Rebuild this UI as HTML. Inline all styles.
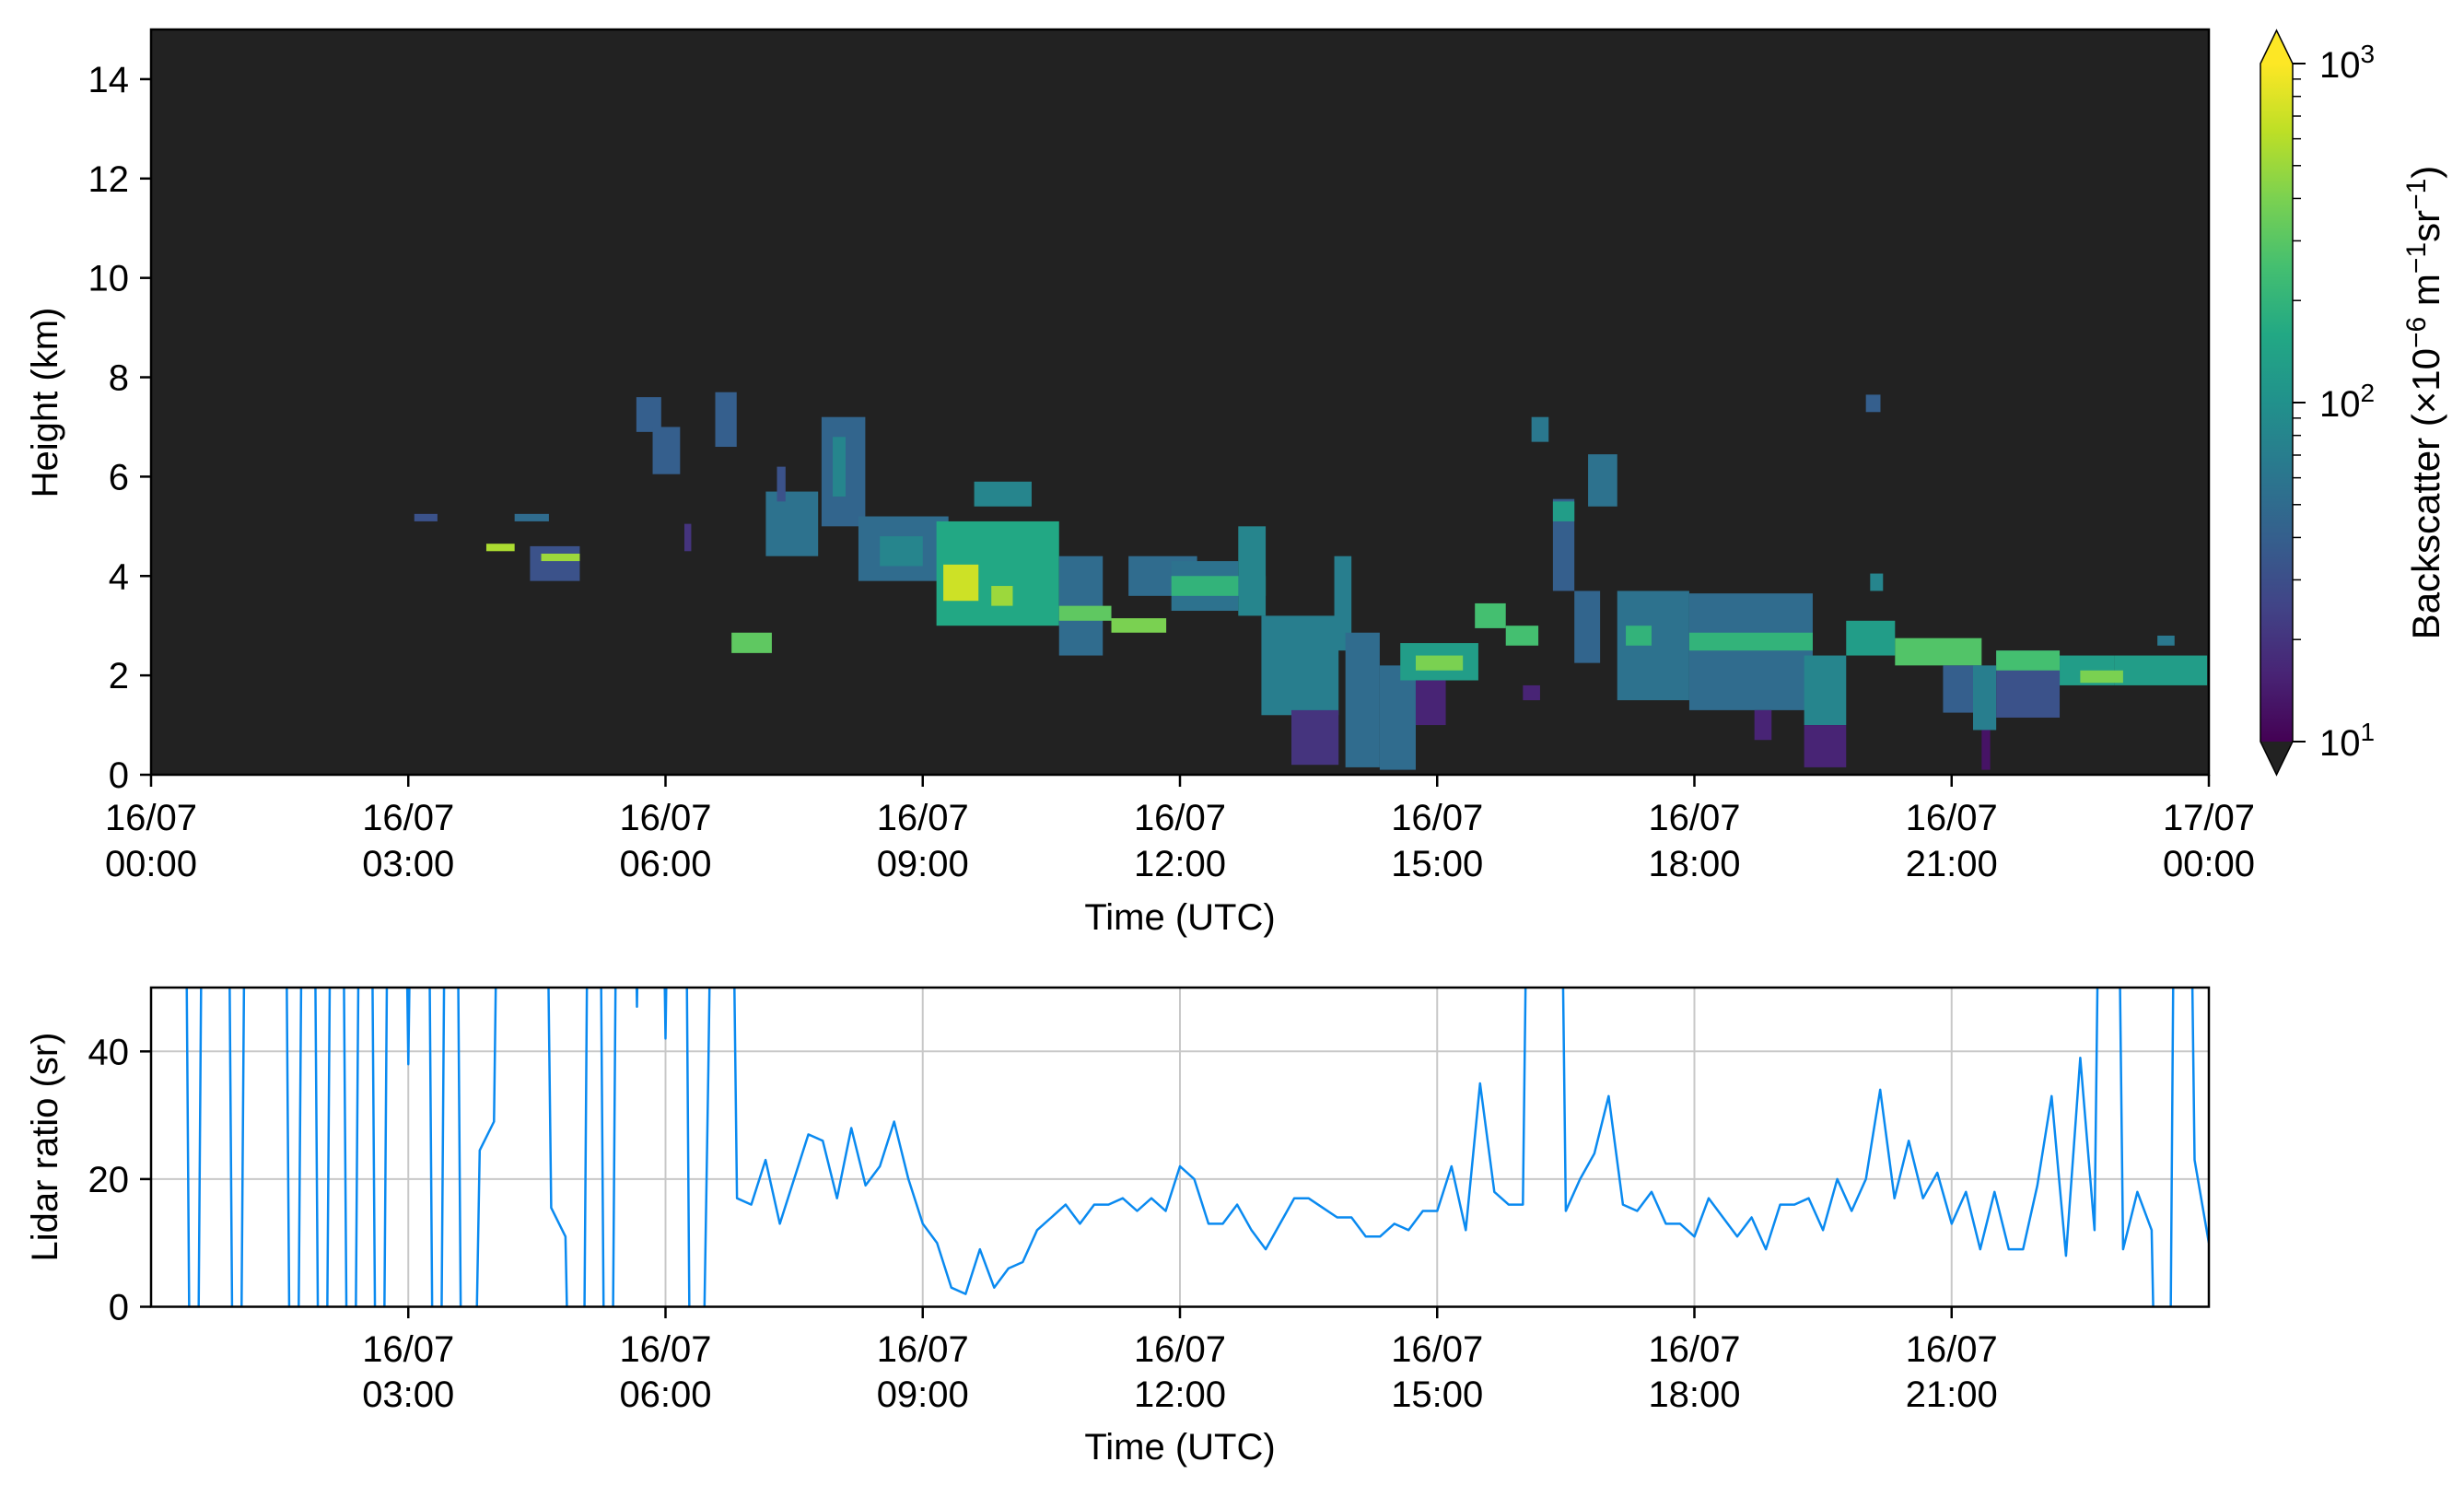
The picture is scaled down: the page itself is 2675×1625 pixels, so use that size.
<!DOCTYPE html>
<html>
<head>
<meta charset="utf-8">
<style>
html,body{margin:0;padding:0;background:#fff;overflow:hidden;width:2675px;height:1625px;}
svg{display:block;font-family:"Liberation Sans","DejaVu Sans",sans-serif;}
</style>
</head>
<body>
<svg id="chart" width="2675" height="1625" viewBox="0 0 2675 1625" xmlns="http://www.w3.org/2000/svg">
  <defs>
    <clipPath id="clipTop"><rect x="164" y="32" width="2234" height="809"/></clipPath>
    <clipPath id="clipBot"><rect x="164" y="1072" width="2234" height="346.5"/></clipPath>
    <linearGradient id="viridis" x1="0" y1="1" x2="0" y2="0">
      <stop offset="0" stop-color="#440154"/><stop offset="0.1" stop-color="#482475"/>
      <stop offset="0.2" stop-color="#414487"/><stop offset="0.3" stop-color="#355f8d"/>
      <stop offset="0.4" stop-color="#2a788e"/><stop offset="0.5" stop-color="#21918c"/>
      <stop offset="0.6" stop-color="#22a884"/><stop offset="0.7" stop-color="#44bf70"/>
      <stop offset="0.8" stop-color="#7ad151"/><stop offset="0.9" stop-color="#bddf26"/>
      <stop offset="1" stop-color="#fde725"/>
    </linearGradient>
  </defs>
  <rect x="164" y="32" width="2234" height="809" fill="#222222"/>
  <g id="heat" clip-path="url(#clipTop)"></g>
  <rect x="164" y="32" width="2234" height="809" fill="none" stroke="#000" stroke-width="2.5"/>
  <g id="topAxes"></g>
  <g id="botGrid"></g>
  <g id="botLine" clip-path="url(#clipBot)"></g>
  <rect x="164" y="1072" width="2234" height="346.5" fill="none" stroke="#000" stroke-width="2.5"/>
  <g id="botAxes"></g>
  <g id="cbar">
    <rect x="2454" y="69" width="35" height="736" fill="url(#viridis)"/>
    <polygon points="2454,69 2471.5,33 2489,69" fill="#fde725"/>
    <polygon points="2454,805 2471.5,841 2489,805" fill="#222222"/>
    <polygon points="2454,69 2471.5,33 2489,69 2489,805 2471.5,841 2454,805" fill="none" stroke="#000" stroke-width="1.5"/>
  </g>
  <text x="0" y="0" font-size="40" text-anchor="middle" transform="translate(62,437) rotate(-90)">Height (km)</text>
  <text x="1281" y="1009" font-size="40" text-anchor="middle">Time (UTC)</text>
  <text x="0" y="0" font-size="40" text-anchor="middle" transform="translate(62,1245) rotate(-90)">Lidar ratio (sr)</text>
  <text x="1281" y="1584" font-size="40" text-anchor="middle">Time (UTC)</text>
  <text x="0" y="0" font-size="42" text-anchor="middle" transform="translate(2648,437) rotate(-90)">Backscatter (×10<tspan dy="-15" font-size="30">−6</tspan><tspan dy="15"> m</tspan><tspan dy="-15" font-size="30">−1</tspan><tspan dy="15">sr</tspan><tspan dy="-15" font-size="30">−1</tspan><tspan dy="15">)</tspan></text>
</svg>
<script>
// ---- data ----
const blobStart = [3.07,3.91,4.24,4.42,4.55,5.66,5.85,6.22,6.58,6.77,7.17,7.3,7.82,7.95,8.25,8.5,9.16,9.24,9.8,9.6,10.59,10.59,11.2,11.4,11.9,11.9,12.68,12.95,13.3,13.8,13.93,14.33,14.57,14.75,14.75,15.44,15.8,16.0,16.1,16.76,16.35,16.35,16.6,17.1,17.2,17.94,17.94,18.7,19.28,19.28,19.77,20.05,20.0,20.34,20.9,21.25,21.35,21.52,21.52,22.26,22.9,22.5,23.4];
const blobEnd   = [3.34,4.24,4.64,5.0,5.0,5.95,6.17,6.3,6.83,7.24,7.78,7.4,8.33,8.1,9.3,9.0,10.59,9.65,10.05,10.27,11.1,11.2,11.84,12.2,12.68,13.0,13.0,13.85,13.85,14.0,14.33,14.75,15.48,15.3,15.1,15.8,16.18,16.2,16.3,17.1,16.6,16.6,16.9,17.94,17.5,19.38,19.38,18.9,19.77,19.77,20.34,20.2,20.17,21.35,21.35,21.52,21.45,22.26,22.26,22.9,23.98,23.0,23.6];
const blobBase  = [5.1,4.5,5.1,3.9,4.3,6.9,6.05,4.5,6.6,2.45,4.4,5.5,5.0,5.6,3.9,4.2,3.0,3.5,3.4,5.4,2.4,3.1,2.86,3.6,3.3,3.6,3.2,1.2,0.2,2.5,0.15,0.1,1.9,2.1,1.0,2.95,2.6,1.5,6.7,5.4,3.7,5.1,2.25,1.5,2.6,1.3,2.5,0.7,1.0,0.15,2.4,3.7,7.3,2.2,1.25,0.9,0.1,1.15,2.1,1.8,1.8,1.85,2.6];
const blobTop   = [5.25,4.65,5.25,4.6,4.45,7.6,7.0,5.05,7.7,2.86,5.7,6.2,7.2,6.8,5.2,4.8,5.1,4.23,3.8,5.9,4.4,3.4,3.15,4.4,4.3,4.0,5.0,3.2,1.3,4.4,2.86,2.2,2.65,2.4,1.9,3.45,3.0,1.8,7.2,6.45,5.55,5.5,3.7,3.7,3.0,3.65,2.86,1.3,2.4,1.0,3.1,4.05,7.65,2.75,2.2,2.2,0.9,2.5,2.5,2.4,2.4,2.1,2.8];
const blobLogVal= [1.5,2.75,1.7,1.5,2.7,1.6,1.6,1.3,1.6,2.5,1.75,1.5,1.65,1.9,1.7,1.9,2.2,2.85,2.7,1.9,1.7,2.5,2.6,1.7,1.75,2.3,1.9,1.85,1.3,1.85,1.7,1.7,2.1,2.6,1.2,2.4,2.4,1.2,1.8,1.75,1.6,2.1,1.65,1.75,2.3,1.7,2.3,1.2,1.9,1.2,2.1,1.9,1.6,2.45,1.6,1.85,1.1,1.5,2.4,2.1,2.1,2.6,1.8];

// lidar ratio, 10-min steps from 00:00; 200 = off-scale high, -100 = off-scale low
const ratioValues = [200,200,200,-100,200,200,-100,200,200,200,-100,200,-100,200,-100,200,-100,200,38,200,-100,200,-100,24.5,29,200,200,200,15.5,11,-100,200,-100,200,47,200,42,200,-100,37,200,17,16,23,13,20,27,26,17,28,19,22,29,20,13,10,3,2,9,3,6,7,12,14,16,13,16,16,17,15,17,15,
22,20,13,13,16,12,9,13,17,17,15.5,14,14,11,11,13,12,15,15,22,12,35,18,16,16,200,200,15,20,24,33,16,15,18,13,13,11,17,14,11,14,9,16,16,17,12,20,15,20,34,17,26,17,21,13,18,9,18,9,9,19,33,8,39,12,200,9,18,12,-100,200,23,10];

const topYTicks = [0,2,4,6,8,10,12,14];
const timeTicks = [0,3,6,9,12,15,18,21,24];
const timeDate  = ["16/07","16/07","16/07","16/07","16/07","16/07","16/07","16/07","17/07"];
const timeClock = ["00:00","03:00","06:00","09:00","12:00","15:00","18:00","21:00","00:00"];
const ratioTicks = [0,20,40];
const cbarExps = [1,2,3];

// ---- axes ----
const X0=164, X1=2398;
const xT = h => X0 + (X1-X0)*h/24;
const yTop = km => 841 - (809/15)*km;
const yBot = v => 1418.5 - 346.5*v/50;
const yCb = lv => 805 - 368*(lv-1);
const NS="http://www.w3.org/2000/svg";
function mk(tag, attrs, parent){const e=document.createElementNS(NS,tag);for(const k in attrs)e.setAttribute(k,attrs[k]);parent.appendChild(e);return e;}

const stops=[[68,1,84],[72,36,117],[65,68,135],[53,95,141],[42,120,142],[33,145,140],[34,168,132],[68,191,112],[122,209,81],[189,223,38],[253,231,37]];
function viridis(t){t=Math.max(0,Math.min(1,t));const p=t*10,i=Math.min(9,Math.floor(p)),f=p-i;const a=stops[i],b=stops[i+1];
  return "rgb("+[0,1,2].map(k=>Math.round(a[k]+(b[k]-a[k])*f)).join(",")+")";}

// heatmap
const heat=document.getElementById('heat');
for(let i=0;i<blobStart.length;i++){
  const r=mk('rect',{x:xT(blobStart[i]),y:yTop(blobTop[i]),width:xT(blobEnd[i])-xT(blobStart[i]),height:yTop(blobBase[i])-yTop(blobTop[i]),fill:viridis((blobLogVal[i]-1)/2)},heat);
  
  
}

// top axes
const ta=document.getElementById('topAxes');
topYTicks.forEach(v=>{
  mk('line',{x1:152,x2:164,y1:yTop(v),y2:yTop(v),stroke:'#000','stroke-width':2.5},ta);
  const t=mk('text',{x:140,y:yTop(v)+14,'font-size':40,'text-anchor':'end'},ta);t.textContent=v;
  
  
});
timeTicks.forEach((h,i)=>{
  mk('line',{x1:xT(h),x2:xT(h),y1:841,y2:854,stroke:'#000','stroke-width':2.5},ta);
  const t1=mk('text',{x:xT(h),y:901,'font-size':40,'text-anchor':'middle'},ta);t1.textContent=timeDate[i];
  
  
  const t2=mk('text',{x:xT(h),y:951,'font-size':40,'text-anchor':'middle'},ta);t2.textContent=timeClock[i];
  
  
});

// bottom grid + axes
const bg=document.getElementById('botGrid'), ba=document.getElementById('botAxes');
timeTicks.slice(1,-1).forEach((h,j)=>{
  const i=j+1;
  mk('line',{x1:xT(h),x2:xT(h),y1:1072,y2:1418.5,stroke:'#c8c8c8','stroke-width':2},bg);
  mk('line',{x1:xT(h),x2:xT(h),y1:1418.5,y2:1431,stroke:'#000','stroke-width':2.5},ba);
  const t1=mk('text',{x:xT(h),y:1478,'font-size':40,'text-anchor':'middle'},ba);t1.textContent=timeDate[i];
  
  
  const t2=mk('text',{x:xT(h),y:1527,'font-size':40,'text-anchor':'middle'},ba);t2.textContent=timeClock[i];
  
  
});
ratioTicks.forEach(v=>{
  if(v>0) mk('line',{x1:164,x2:2398,y1:yBot(v),y2:yBot(v),stroke:'#c8c8c8','stroke-width':2},bg);
  mk('line',{x1:152,x2:164,y1:yBot(v),y2:yBot(v),stroke:'#000','stroke-width':2.5},ba);
  const t=mk('text',{x:140,y:yBot(v)+14,'font-size':40,'text-anchor':'end'},ba);t.textContent=v;
  
  
});

// lidar ratio line
const pts=ratioValues.map((v,i)=>xT(i/6).toFixed(1)+","+yBot(v).toFixed(1)).join(" ");
const pl=mk('polyline',{points:pts,fill:'none',stroke:'#0a8af0','stroke-width':2.5,'stroke-linejoin':'round'},document.getElementById('botLine'));



// colorbar ticks
const cb=document.getElementById('cbar');
cbarExps.forEach(e=>{
  mk('line',{x1:2489,x2:2503,y1:yCb(e),y2:yCb(e),stroke:'#000','stroke-width':2},cb);
  const t=mk('text',{x:2518,y:yCb(e)+15,'font-size':40},cb);
  t.innerHTML='10<tspan dy="-16" font-size="28">'+e+'</tspan>';
  
  
});
[1,2].forEach(e=>{for(let m=2;m<=9;m++){const y=yCb(e+Math.log10(m));mk('line',{x1:2489,x2:2498,y1:y,y2:y,stroke:'#000','stroke-width':1.5},cb);}});
</script>
</body>
</html>
